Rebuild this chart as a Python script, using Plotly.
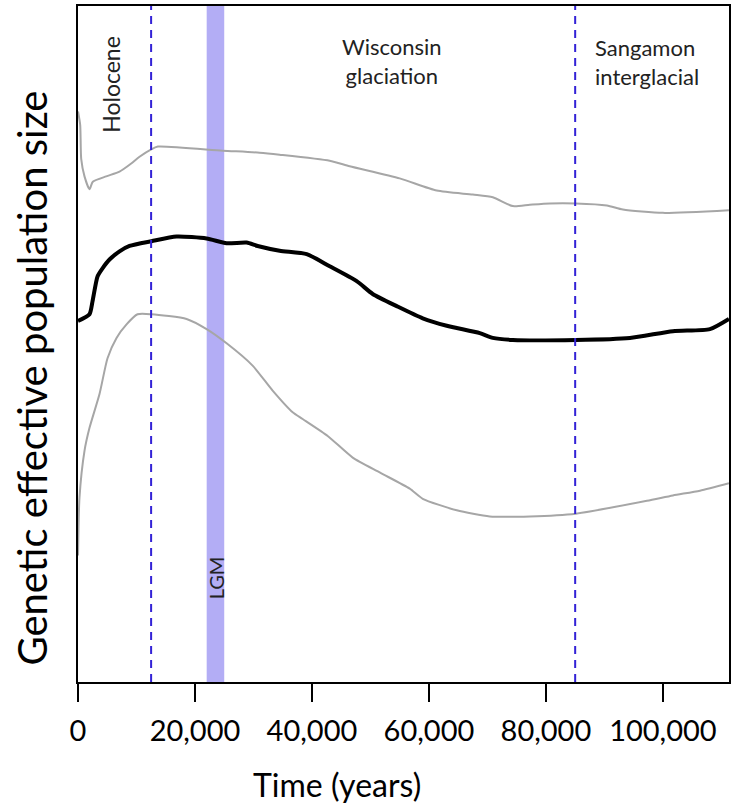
import plotly.graph_objects as go

# Time (years before present)
upper_t = [0, 376, 547, 1112, 1967, 2532, 4825, 7100, 9100, 10522, 12524, 13653, 24722, 31052,
           34474, 43028, 46450, 55004, 61334, 67494, 70916, 74337, 77246, 80667, 85116, 90419,
           93157, 100000, 111292]
upper_v = [84.4, 82.4, 77.4, 74.8, 72.9, 74.0, 74.8, 75.5, 76.7, 77.7, 78.8, 79.2, 78.6, 78.3,
           78.0, 77.1, 76.3, 74.5, 72.7, 72.1, 71.7, 70.4, 70.6, 70.8, 70.8, 70.5,
           69.9, 69.4, 69.8]

median_t = [0, 1967, 2480, 3336, 4192, 5389, 7100, 8811, 12575, 16852, 21985, 25407, 28828,
            30710, 34474, 39094, 43028, 47647, 50385, 54491, 58939, 63045, 68691, 70916, 74337,
            85116, 94354, 101711, 108041, 111292]
median_v = [53.4, 54.4, 56.3, 60.0, 61.2, 62.5, 63.7, 64.5, 65.2, 65.9, 65.6, 64.9, 65.0,
            64.5, 63.8, 63.3, 61.5, 59.3, 57.4, 55.6, 53.8, 52.7, 51.6, 50.9, 50.6,
            50.6, 50.9, 51.9, 52.2, 53.7]

lower_t = [0, 257, 1112, 1967, 3678, 5047, 6587, 8298, 10180, 12575, 18563, 21985, 25407,
           29855, 33277, 36699, 38410, 42687, 46964, 51583, 56716, 58939, 64756, 70402, 77246,
           85116, 97263, 101711, 106330, 111292]
lower_v = [18.7, 27.3, 34.2, 37.6, 42.6, 47.9, 50.9, 52.9, 54.4, 54.4, 53.7, 52.2, 50.1,
           46.8, 43.1, 39.9, 38.9, 36.4, 33.2, 31.0, 28.6, 27.1, 25.4, 24.5, 24.5,
           24.9, 26.8, 27.6, 28.3, 29.4]

period_bounds = [12500, 85000]
lgm_range = [22000, 25000]
x_ticks = [0, 20000, 40000, 60000, 80000, 100000]
x_tick_labels = ["0", "20,000", "40,000", "60,000", "80,000", "100,000"]
x_max = 111300

FONT = "Lato"

fig = go.Figure()

# LGM band
fig.add_shape(type="rect", xref="x", yref="paper", x0=lgm_range[0], x1=lgm_range[1],
              y0=0, y1=1, fillcolor="#b3adf5", line_width=0, layer="below")

for xb in period_bounds:
    fig.add_shape(type="line", xref="x", yref="paper", x0=xb, x1=xb, y0=0, y1=1,
                  line=dict(color="#3322d6", width=2, dash="8px,6px"))

fig.add_trace(go.Scatter(x=upper_t, y=upper_v, mode="lines", line_shape="spline",
                         line=dict(color="#a6a6a6", width=2, smoothing=0.6), showlegend=False))
fig.add_trace(go.Scatter(x=lower_t, y=lower_v, mode="lines", line_shape="spline",
                         line=dict(color="#a6a6a6", width=2, smoothing=0.6), showlegend=False))
fig.add_trace(go.Scatter(x=median_t, y=median_v, mode="lines", line_shape="spline",
                         line=dict(color="black", width=4, smoothing=0.6), showlegend=False))

txt = dict(family=FONT, color="#222222")
fig.add_annotation(text="Holocene", xref="x", yref="y", x=5700, y=88.4, textangle=-90,
                   showarrow=False, font=dict(txt, size=23))
fig.add_annotation(text="Wisconsin<br>glaciation", xref="x", yref="y", x=53700, y=91.9,
                   showarrow=False, font=dict(txt, size=22), align="center")
fig.add_annotation(text="Sangamon<br>interglacial", xref="x", yref="y", x=88000, y=91.7,
                   showarrow=False, font=dict(txt, size=22), align="left", xanchor="left")
fig.add_annotation(text="LGM", xref="x", yref="y", x=23500, y=15.4, textangle=-90,
                   showarrow=False, font=dict(txt, size=20))

fig.add_annotation(text="Genetic effective population size", xref="paper", yref="paper",
                   x=-0.071, y=0.45, xanchor="center", yanchor="middle", textangle=-90,
                   showarrow=False, font=dict(family=FONT, size=40, color="black"))
fig.add_annotation(text="Time (years)", xref="paper", yref="paper",
                   x=0.398, y=-0.152, xanchor="center", yanchor="middle", showarrow=False,
                   font=dict(family=FONT, size=32, color="black"))

fig.update_layout(
    width=739, height=809,
    margin=dict(l=78, r=10, t=4, b=127),
    plot_bgcolor="white", paper_bgcolor="white",
    xaxis=dict(range=[0, x_max], tickvals=x_ticks, ticktext=x_tick_labels,
               ticks="outside", ticklen=18, tickwidth=2, tickcolor="black",
               ticklabelstandoff=4,
               showline=True, linewidth=2, linecolor="black", mirror=True,
               showgrid=False, zeroline=False,
               tickfont=dict(family=FONT, size=29, color="black")),
    yaxis=dict(range=[0, 100], showticklabels=False, ticks="",
               showline=True, linewidth=2, linecolor="black", mirror=True,
               showgrid=False, zeroline=False),
)

fig.write_html("out.html", config={"displayModeBar": False},
               post_script="document.body.style.margin='0';")
